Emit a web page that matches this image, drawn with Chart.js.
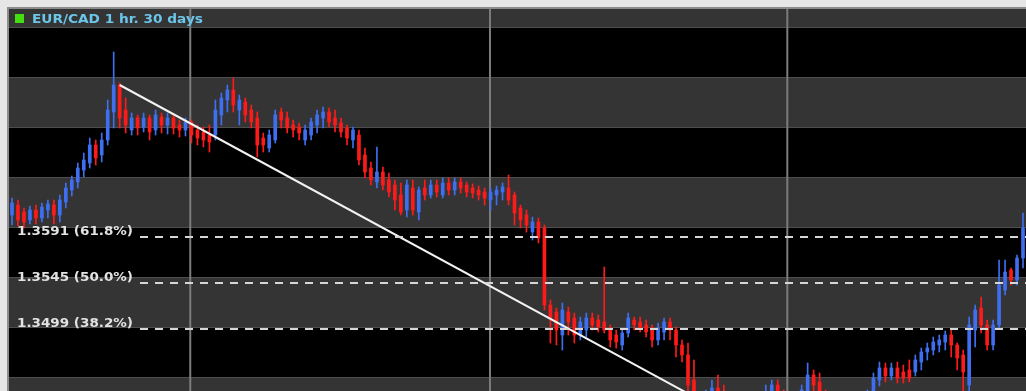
<!DOCTYPE html>
<html>
<head>
<meta charset="utf-8">
<script src="https://cdn.jsdelivr.net/npm/chart.js@4/dist/chart.umd.min.js"></script>
<style>
  html, body { margin: 0; padding: 0; background: #e6e6e6; }
  canvas { display: block; }
</style>
</head>
<body>
<canvas id="chart" width="1026" height="391"></canvas>
<script>
// EUR/CAD hourly candles
const title = 'EUR/CAD 1 hr. 30 days';

const open = [
  1.3613,1.3623,1.3616,1.3608,1.3618,1.3610,1.3618,1.3623,1.3613,1.3626,
  1.3638,1.3646,1.3658,1.3665,1.3683,1.3673,1.3688,1.3716,1.3743,1.3718,
  1.3698,1.3710,1.3701,1.3710,1.3698,1.3711,1.3703,1.3710,1.3703,1.3698,
  1.3706,1.3698,1.3696,1.3693,1.3693,1.3713,1.3728,1.3738,1.3718,1.3726,
  1.3718,1.3710,1.3690,1.3680,1.3688,1.3716,1.3710,1.3703,1.3701,1.3688,
  1.3693,1.3703,1.3710,1.3716,1.3710,1.3705,1.3700,1.3688,1.3693,1.3673,
  1.3660,1.3646,1.3656,1.3648,1.3643,1.3633,1.3618,1.3640,1.3616,1.3640,
  1.3633,1.3643,1.3633,1.3645,1.3638,1.3646,1.3643,1.3640,1.3638,1.3636,
  1.3628,1.3633,1.3636,1.3640,1.3633,1.3620,1.3613,1.3596,1.3606,1.3600,
  1.3523,1.3516,1.3493,1.3516,1.3510,1.3493,1.3498,1.3510,1.3508,1.3506,
  1.3500,1.3493,1.3483,1.3495,1.3508,1.3506,1.3503,1.3500,1.3488,1.3496,
  1.3506,1.3498,1.3483,1.3473,1.3448,1.3428,1.3416,1.3430,1.3440,1.3435,
  1.3428,1.3420,1.3410,1.3420,1.3408,1.3416,1.3428,1.3433,1.3443,1.3433,
  1.3423,1.3430,1.3420,1.3436,1.3453,1.3446,1.3433,1.3416,1.3393,1.3370,
  1.3358,1.3383,1.3403,1.3420,1.3433,1.3448,1.3460,1.3452,1.3460,1.3456,
  1.3458,1.3456,1.3466,1.3476,1.3478,1.3483,1.3486,1.3493,1.3483,1.3473,
  1.3443,1.3498,1.3520,1.3503,1.3483,1.3503,1.3538,1.3558,1.3548,1.3570
];
const high = [
  1.3630,1.3628,1.3620,1.3622,1.3623,1.3625,1.3628,1.3628,1.3633,1.3645,
  1.3652,1.3665,1.3675,1.3690,1.3688,1.3695,1.3728,1.3776,1.3745,1.3730,
  1.3715,1.3713,1.3715,1.3713,1.3718,1.3715,1.3715,1.3713,1.3708,1.3710,
  1.3708,1.3703,1.3701,1.3703,1.3728,1.3735,1.3743,1.3750,1.3733,1.3730,
  1.3723,1.3716,1.3695,1.3698,1.3718,1.3720,1.3716,1.3708,1.3705,1.3703,
  1.3710,1.3718,1.3721,1.3720,1.3718,1.3710,1.3703,1.3701,1.3698,1.3680,
  1.3666,1.3681,1.3661,1.3655,1.3648,1.3645,1.3648,1.3648,1.3641,1.3648,
  1.3648,1.3648,1.3650,1.3650,1.3650,1.3650,1.3646,1.3644,1.3642,1.3640,
  1.3640,1.3642,1.3645,1.3653,1.3636,1.3623,1.3618,1.3611,1.3610,1.3603,
  1.3528,1.3520,1.3525,1.3521,1.3515,1.3511,1.3515,1.3515,1.3513,1.3561,
  1.3503,1.3498,1.3500,1.3515,1.3511,1.3511,1.3508,1.3503,1.3505,1.3510,
  1.3510,1.3501,1.3488,1.3485,1.3468,1.3433,1.3438,1.3448,1.3453,1.3443,
  1.3433,1.3428,1.3426,1.3423,1.3423,1.3433,1.3443,1.3448,1.3448,1.3438,
  1.3436,1.3433,1.3443,1.3465,1.3458,1.3455,1.3438,1.3420,1.3398,1.3378,
  1.3388,1.3408,1.3426,1.3438,1.3455,1.3466,1.3465,1.3465,1.3466,1.3463,
  1.3468,1.3473,1.3480,1.3485,1.3491,1.3493,1.3497,1.3498,1.3485,1.3478,
  1.3511,1.3523,1.3531,1.3508,1.3508,1.3568,1.3568,1.3560,1.3573,1.3615
];
const low = [
  1.3603,1.3602,1.3600,1.3604,1.3604,1.3606,1.3610,1.3604,1.3606,1.3620,
  1.3632,1.3640,1.3651,1.3660,1.3663,1.3666,1.3683,1.3700,1.3700,1.3695,
  1.3693,1.3693,1.3696,1.3688,1.3693,1.3695,1.3694,1.3694,1.3691,1.3692,
  1.3685,1.3683,1.3681,1.3676,1.3688,1.3703,1.3716,1.3716,1.3703,1.3706,
  1.3700,1.3671,1.3676,1.3676,1.3685,1.3700,1.3695,1.3691,1.3688,1.3683,
  1.3688,1.3695,1.3700,1.3701,1.3696,1.3691,1.3683,1.3680,1.3663,1.3650,
  1.3643,1.3640,1.3638,1.3631,1.3618,1.3613,1.3611,1.3613,1.3608,1.3628,
  1.3630,1.3631,1.3630,1.3633,1.3633,1.3635,1.3631,1.3630,1.3628,1.3623,
  1.3618,1.3623,1.3628,1.3623,1.3603,1.3600,1.3596,1.3588,1.3585,1.3518,
  1.3485,1.3483,1.3478,1.3493,1.3485,1.3488,1.3491,1.3498,1.3496,1.3495,
  1.3481,1.3480,1.3478,1.3491,1.3498,1.3496,1.3491,1.3481,1.3483,1.3488,
  1.3488,1.3471,1.3466,1.3433,1.3418,1.3408,1.3410,1.3423,1.3423,1.3418,
  1.3410,1.3403,1.3403,1.3400,1.3400,1.3410,1.3420,1.3428,1.3426,1.3416,
  1.3416,1.3413,1.3416,1.3430,1.3436,1.3428,1.3410,1.3388,1.3363,1.3350,
  1.3353,1.3378,1.3398,1.3416,1.3428,1.3442,1.3446,1.3448,1.3445,1.3445,
  1.3446,1.3452,1.3458,1.3468,1.3473,1.3476,1.3478,1.3471,1.3458,1.3428,
  1.3433,1.3481,1.3495,1.3478,1.3478,1.3500,1.3533,1.3543,1.3543,1.3560
];
const close = [
  1.3625,1.3608,1.3606,1.3618,1.3610,1.3621,1.3624,1.3613,1.3628,1.3640,
  1.3648,1.3660,1.3668,1.3683,1.3670,1.3688,1.3718,1.3743,1.3710,1.3703,
  1.3710,1.3700,1.3710,1.3696,1.3713,1.3703,1.3710,1.3700,1.3698,1.3706,
  1.3693,1.3690,1.3688,1.3686,1.3718,1.3730,1.3738,1.3723,1.3728,1.3713,
  1.3706,1.3683,1.3683,1.3693,1.3713,1.3708,1.3700,1.3698,1.3695,1.3698,
  1.3706,1.3713,1.3716,1.3706,1.3703,1.3696,1.3690,1.3698,1.3668,1.3656,
  1.3648,1.3656,1.3643,1.3636,1.3628,1.3616,1.3643,1.3618,1.3638,1.3633,
  1.3643,1.3636,1.3645,1.3638,1.3646,1.3640,1.3636,1.3635,1.3633,1.3630,
  1.3636,1.3638,1.3641,1.3628,1.3615,1.3608,1.3603,1.3606,1.3590,1.3523,
  1.3510,1.3498,1.3518,1.3506,1.3493,1.3506,1.3510,1.3503,1.3501,1.3498,
  1.3488,1.3486,1.3495,1.3510,1.3503,1.3500,1.3496,1.3488,1.3500,1.3506,
  1.3498,1.3483,1.3473,1.3443,1.3428,1.3418,1.3430,1.3440,1.3433,1.3428,
  1.3418,1.3413,1.3420,1.3410,1.3418,1.3428,1.3436,1.3443,1.3433,1.3423,
  1.3430,1.3420,1.3438,1.3453,1.3443,1.3433,1.3416,1.3393,1.3370,1.3358,
  1.3383,1.3403,1.3420,1.3433,1.3450,1.3460,1.3452,1.3460,1.3450,1.3450,
  1.3450,1.3468,1.3476,1.3480,1.3486,1.3488,1.3493,1.3483,1.3470,1.3456,
  1.3503,1.3518,1.3503,1.3483,1.3503,1.3543,1.3556,1.3548,1.3570,1.3600
];

// fibonacci retracement levels
const fibLevels = [1.3591, 1.3545, 1.3499];
const fibPercents = ['61.8%', '50.0%', '38.2%'];

// price grid (alternating bands) and vertical separators (candle index)
const priceGrid = [1.3400, 1.3450, 1.3500, 1.3550, 1.3600, 1.3650, 1.3700, 1.3750, 1.3800, 1.3850];
const weekLines = [29.8, 79.9, 129.6];

// trend line, swing high to swing low
const trendFrom = { x: 18, y: 1.3743 };
const trendTo = { x: 139, y: 1.3350 };

const UP = '#3e6ff0';
const DOWN = '#ff1a1a';

const colors = open.map((o, i) => close[i] >= o ? UP : DOWN);
const wicks = open.map((o, i) => ({ x: i, y: [low[i], high[i]] }));
const bodies = open.map((o, i) => ({ x: i, y: [o, close[i]] }));

function fitText(ctx, text, x, y, width) {
  const w = ctx.measureText(text).width;
  ctx.save();
  ctx.translate(x, y);
  ctx.scale(width / w, 1);
  ctx.fillText(text, 0, 0);
  ctx.restore();
}

const backdrop = {
  id: 'backdrop',
  beforeDraw(chart) {
    const { ctx, chartArea: a, scales: { x, y } } = chart;
    ctx.save();
    ctx.fillStyle = '#e6e6e6';
    ctx.fillRect(0, 0, chart.width, chart.height);
    ctx.fillStyle = '#8c8c8c';
    ctx.fillRect(a.left - 2, a.top - 2, a.right - a.left + 2, 2);
    ctx.fillRect(a.left - 2, a.top - 2, 2, a.bottom - a.top + 2);

    ctx.beginPath();
    ctx.rect(a.left, a.top, a.right - a.left, a.bottom - a.top);
    ctx.clip();
    for (let k = 0; k < priceGrid.length - 1; k++) {
      const y0 = y.getPixelForValue(priceGrid[k + 1]);
      const y1 = y.getPixelForValue(priceGrid[k]);
      ctx.fillStyle = k % 2 === 0 ? '#343434' : '#000000';
      ctx.fillRect(a.left, y0, a.right - a.left, y1 - y0);
    }
    ctx.fillStyle = '#4e4e4e';
    priceGrid.forEach(p => {
      const py = Math.round(y.getPixelForValue(p));
      ctx.fillRect(a.left, py - 1, a.right - a.left, 1);
    });
    ctx.strokeStyle = '#7c7c7c';
    ctx.lineWidth = 2;
    weekLines.forEach(v => {
      const px = x.getPixelForValue(v);
      ctx.beginPath();
      ctx.moveTo(px, a.top);
      ctx.lineTo(px, a.bottom);
      ctx.stroke();
    });
    ctx.restore();
  },
  afterDatasetsDraw(chart) {
    const { ctx, chartArea: a, scales: { y } } = chart;
    ctx.save();
    ctx.beginPath();
    ctx.rect(a.left, a.top, a.right - a.left, a.bottom - a.top);
    ctx.clip();

    // fib lines + labels
    ctx.font = 'bold 12px "DejaVu Sans"';
    fibLevels.forEach((lv, i) => {
      const py = Math.round(y.getPixelForValue(lv));
      ctx.strokeStyle = '#d6d6d6';
      ctx.lineWidth = 2;
      ctx.setLineDash([8, 7]);
      ctx.beginPath();
      ctx.moveTo(140, py);
      ctx.lineTo(a.right, py);
      ctx.stroke();
      ctx.setLineDash([]);
      ctx.fillStyle = '#e2e2e2';
      fitText(ctx, lv.toFixed(4) + ' (' + fibPercents[i] + ')', 17, py - 2, 116);
    });

    // title
    ctx.fillStyle = '#44dd11';
    ctx.fillRect(15, 14, 9, 9);
    ctx.font = 'bold 12px "DejaVu Sans"';
    ctx.fillStyle = '#6cc6ea';
    fitText(ctx, title, 32, 23, 171);
    ctx.restore();
  }
};

new Chart(document.getElementById('chart'), {
  type: 'bar',
  data: {
    datasets: [
      {
        type: 'line',
        data: [trendFrom, trendTo],
        borderColor: '#f2f2f2',
        borderWidth: 2,
        pointRadius: 0,
        order: 0
      },
      {
        data: bodies,
        backgroundColor: colors,
        barThickness: 3,
        grouped: false,
        order: 1
      },
      {
        data: wicks,
        backgroundColor: colors,
        barThickness: 1,
        grouped: false,
        order: 2
      }
    ]
  },
  options: {
    responsive: false,
    animation: false,
    devicePixelRatio: 1,
    layout: { padding: { left: 9, top: 9, right: 0, bottom: 0 } },
    plugins: { legend: { display: false }, tooltip: { enabled: false } },
    scales: {
      x: { type: 'linear', display: false, min: -0.5, max: open.length - 0.5, offset: false },
      y: { display: false, min: 1.3437, max: 1.3819 }
    }
  },
  plugins: [backdrop]
});
</script>
</body>
</html>
